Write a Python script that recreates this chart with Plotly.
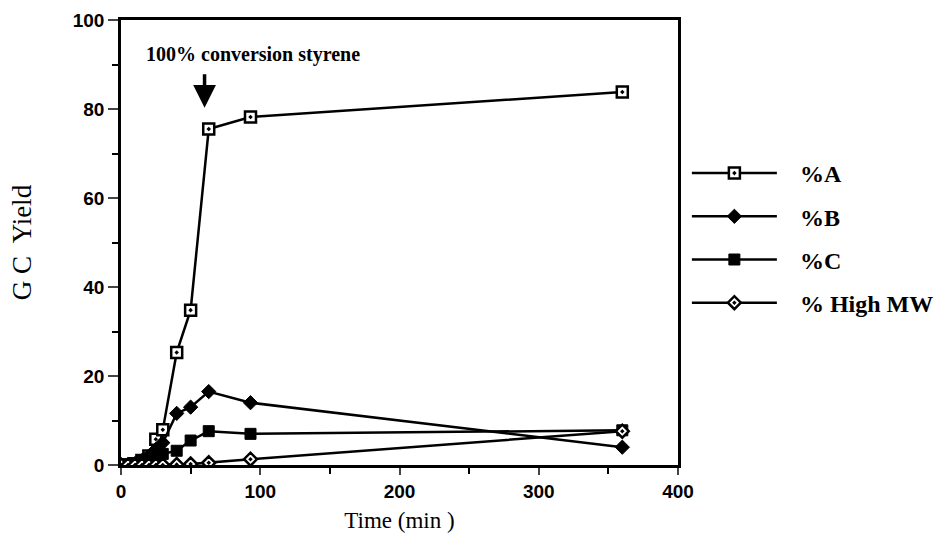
import plotly.graph_objects as go

time_min = [0, 5, 10, 15, 20, 25, 30, 40, 50, 63, 93, 360]
pct_A = [0, 0, 0.3, 1.0, 2.0, 5.8, 7.9, 25.3, 34.8, 75.5, 78.2, 83.8]
pct_B = [0, 0, 0.3, 1.0, 2.0, 3.5, 5.0, 11.6, 13.0, 16.5, 14.0, 4.0]
pct_C = [0, 0, 0.3, 0.8, 1.5, 2.0, 2.5, 3.2, 5.5, 7.6, 7.0, 7.8]
pct_HMW = [0, 0, 0, 0, 0, 0, 0, 0.1, 0.2, 0.5, 1.3, 7.6]

series_names = ["%A", "%B", "%C", "% High MW"]
x_ticks = [0, 100, 200, 300, 400]
y_ticks = [0, 20, 40, 60, 80, 100]

serif = "Liberation Serif"
sans = "Liberation Sans"
pad = "\u00a0\u00a0\u00a0"

fig = go.Figure()
styles = [
    (pct_A, dict(symbol="square-dot", size=11, color="white", line=dict(color="black", width=2.5))),
    (pct_B, dict(symbol="diamond", size=11, color="black", line=dict(color="black", width=1))),
    (pct_C, dict(symbol="square", size=11, color="black", line=dict(color="black", width=1))),
    (pct_HMW, dict(symbol="diamond-dot", size=10, color="white", line=dict(color="black", width=2.5))),
]
for i, (name, (vals, mk)) in enumerate(zip(series_names, styles)):
    fig.add_trace(go.Scatter(
        x=time_min, y=vals, name=pad + name, mode="lines+markers",
        line=dict(color="black", width=2.5), marker=mk,
        legendgroup=f"g{i}",
    ))

fig.add_annotation(x=95, y=92.2, text="100% conversion styrene", showarrow=False,
                   font=dict(family=serif, size=20, color="black", weight="bold"))
fig.add_annotation(x=60, y=80.3, text="", showarrow=True, ax=0, ay=-35,
                   arrowhead=2, arrowsize=1.3, arrowwidth=3.5, arrowcolor="black")

fig.update_layout(
    width=943, height=538,
    margin=dict(l=121, r=265, t=20, b=73),
    paper_bgcolor="white", plot_bgcolor="white",
    showlegend=True,
    legend=dict(xref="container", yref="container", x=0.7284, y=0.5576,
                xanchor="left", yanchor="middle",
                font=dict(family=serif, size=24, color="black", weight="bold"),
                itemwidth=85, tracegroupgap=9, bgcolor="rgba(0,0,0,0)"),
    xaxis=dict(range=[0, 400], tickvals=x_ticks, ticks="outside", ticklen=7, tickwidth=2,
               showline=True, linecolor="black", linewidth=2.5, mirror=True,
               showgrid=False, zeroline=False, automargin=False,
               minor=dict(dtick=50, ticks="outside", ticklen=6, tickwidth=2, tickcolor="black"),
               tickfont=dict(family=sans, size=19, color="black", weight="bold"),
               title=dict(text="Time (min )", font=dict(family=serif, size=23, color="black"), standoff=12)),
    yaxis=dict(range=[0, 100], tickvals=y_ticks, ticks="outside", ticklen=10, tickwidth=2,
               showline=True, linecolor="black", linewidth=2.5, mirror=True,
               showgrid=False, zeroline=False, automargin=False,
               minor=dict(dtick=10, ticks="outside", ticklen=6, tickwidth=2, tickcolor="black"),
               tickfont=dict(family=sans, size=19, color="black", weight="bold"),
               title=dict(text="G C  Yield", font=dict(family=serif, size=27, color="black"), standoff=34)),
)

fig.write_html("out.html", config={"displayModeBar": False},
               post_script="document.body.style.margin='0';")
